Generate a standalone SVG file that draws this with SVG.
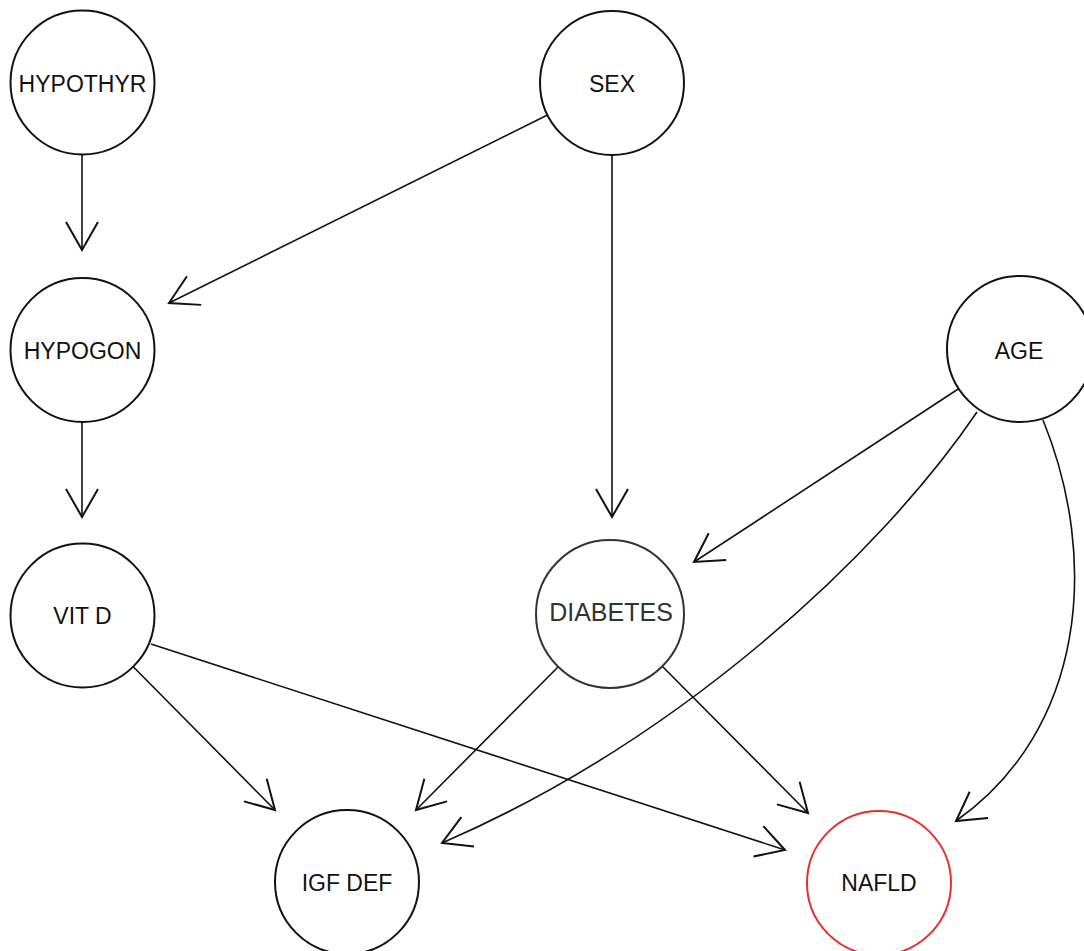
<svg xmlns="http://www.w3.org/2000/svg" width="1084" height="951" viewBox="0 0 1084 951">
<style>
.n{fill:#fff;stroke:#111;stroke-width:2}
.t{font-family:"Liberation Sans",Arial,sans-serif;font-size:23px;fill:#111;text-anchor:middle}
.e{fill:none;stroke:#111;stroke-width:1.6}
</style>
<defs>
<marker id="a" markerUnits="userSpaceOnUse" markerWidth="40" markerHeight="40" refX="0" refY="0" viewBox="-32 -20 36 40" orient="auto" overflow="visible">
<path d="M-28,-16 L0,0 L-28,16" fill="none" stroke="#111" stroke-width="2"/>
</marker>
</defs>
<rect width="1084" height="951" fill="#fff"/>
<g id="edges">
<line class="e" x1="82" y1="155" x2="82" y2="250" marker-end="url(#a)"/>
<line class="e" x1="547.5" y1="115" x2="169" y2="303" marker-end="url(#a)"/>
<line class="e" x1="612" y1="155" x2="612" y2="517" marker-end="url(#a)"/>
<line class="e" x1="82" y1="422" x2="82" y2="517" marker-end="url(#a)"/>
<line class="e" x1="959" y1="388.5" x2="694" y2="562" marker-end="url(#a)"/>
<path class="e" d="M977,412 C880,555 680,740 442,843" marker-end="url(#a)"/>
<path class="e" d="M1043,420 C1100,560 1085,730 956,821" marker-end="url(#a)"/>
<line class="e" x1="132.5" y1="666" x2="275" y2="810" marker-end="url(#a)"/>
<line class="e" x1="151" y1="644" x2="785" y2="850" marker-end="url(#a)"/>
<line class="e" x1="558" y1="667" x2="416" y2="810" marker-end="url(#a)"/>
<line class="e" x1="662" y1="666" x2="808" y2="813" marker-end="url(#a)"/>
</g>
<g id="HYPOTHYR"><circle class="n" cx="82.5" cy="82.5" r="72"/><text class="t" x="82.5" y="92">HYPOTHYR</text></g>
<g id="SEX"><circle class="n" cx="612" cy="83" r="72"/><text class="t" x="612" y="92">SEX</text></g>
<g id="HYPOGON"><circle class="n" cx="82.5" cy="350" r="72"/><text class="t" x="82.5" y="359">HYPOGON</text></g>
<g id="AGE"><circle class="n" cx="1020" cy="349" r="73"/><text class="t" x="1019" y="359">AGE</text></g>
<g id="VITD"><circle class="n" cx="82.5" cy="615.5" r="72"/><text class="t" x="82.5" y="624">VIT D</text></g>
<g id="DIABETES"><circle class="n" cx="610" cy="614" r="74" style="stroke:#333"/><text class="t" x="611" y="621" style="font-size:25px;fill:#333">DIABETES</text></g>
<g id="IGFDEF"><circle class="n" cx="347" cy="882" r="72"/><text class="t" x="347" y="891">IGF DEF</text></g>
<g id="NAFLD"><circle class="n" cx="879" cy="883" r="72" style="stroke:#e8302a"/><text class="t" x="879" y="891">NAFLD</text></g>
</svg>
